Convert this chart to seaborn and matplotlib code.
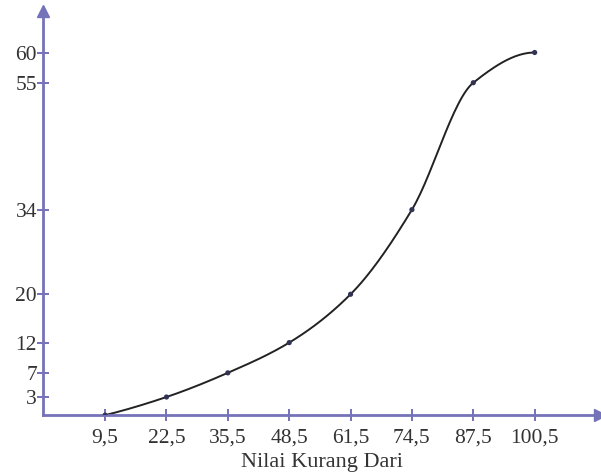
import numpy as np
import matplotlib
matplotlib.use("Agg")
import matplotlib.pyplot as plt
import seaborn as sns

# ogive "kurang dari"
batas_atas = [9.5, 22.5, 35.5, 48.5, 61.5, 74.5, 87.5, 100.5]
frek_kumulatif = [0, 3, 7, 12, 20, 34, 55, 60]
x_labels = ["9,5", "22,5", "35,5", "48,5", "61,5", "74,5", "87,5", "100,5"]
y_ticks = [3, 7, 12, 20, 34, 55, 60]

axis_col = "#7472b8"
text_col = "#333333"

sns.set_theme(style="white")
plt.rcParams["font.family"] = ["Liberation Serif", "DejaVu Serif"]


def pchip_slopes(xs, ys):
    h = np.diff(xs)
    d = np.diff(ys) / h
    m = np.zeros_like(ys)
    for k in range(1, len(xs) - 1):
        if d[k - 1] * d[k] > 0:
            w1 = 2 * h[k] + h[k - 1]
            w2 = h[k] + 2 * h[k - 1]
            m[k] = (w1 + w2) / (w1 / d[k - 1] + w2 / d[k])
    m[0] = ((2 * h[0] + h[1]) * d[0] - h[0] * d[1]) / (h[0] + h[1])
    m[-1] = ((2 * h[-1] + h[-2]) * d[-1] - h[-1] * d[-2]) / (h[-1] + h[-2])
    if m[0] * d[0] <= 0:
        m[0] = 0
    if m[-1] * d[-1] <= 0:
        m[-1] = 0
    return m


def smooth_curve(xs, ys, n=30):
    xs = np.asarray(xs, float)
    ys = np.asarray(ys, float)
    m = pchip_slopes(xs, ys)
    out_x, out_y = [], []
    for i in range(len(xs) - 1):
        h = xs[i + 1] - xs[i]
        t = np.linspace(0, 1, n)
        h00 = 2 * t**3 - 3 * t**2 + 1
        h10 = t**3 - 2 * t**2 + t
        h01 = -2 * t**3 + 3 * t**2
        h11 = t**3 - t**2
        out_x.extend(xs[i] + t * h)
        out_y.extend(h00 * ys[i] + h10 * h * m[i] + h01 * ys[i + 1] + h11 * h * m[i + 1])
    return np.array(out_x), np.array(out_y)


fig = plt.figure(figsize=(6.01, 4.75), dpi=100)
ax = fig.add_axes([0.072, 0.126, 0.926, 0.85])

cx, cy = smooth_curve(batas_atas, frek_kumulatif)
sns.lineplot(x=cx, y=cy, ax=ax, color="#222222", linewidth=1.4, sort=False)
sns.scatterplot(x=batas_atas, y=frek_kumulatif, ax=ax, color="#333355",
                s=14, edgecolor="none", zorder=5)

ax.set_xlim(-3.6, 114.3)
ax.set_ylim(0, 66.8)

ax.set_xticks(batas_atas)
ax.set_xticklabels(x_labels)
ax.set_yticks(y_ticks)

for side in ["top", "right"]:
    ax.spines[side].set_visible(False)
for side in ["left", "bottom"]:
    ax.spines[side].set_color(axis_col)
    ax.spines[side].set_linewidth(2)

ax.tick_params(axis="both", direction="inout", length=9, width=1.4,
               color=axis_col, labelcolor=text_col, labelsize=15.5,
               bottom=True, left=True)
ax.tick_params(axis="y", pad=0)
ax.tick_params(axis="x", pad=5)

# arrow heads
ax.plot(1, 0, ">", transform=ax.transAxes, color=axis_col, markersize=8, clip_on=False)
ax.plot(0, 1, "^", transform=ax.transAxes, color=axis_col, markersize=8, clip_on=False)

ax.set_xlabel("Nilai Kurang Dari", fontsize=16, color=text_col, labelpad=4)
ax.set_ylabel("")

plt.savefig("out.png", dpi=100)
plt.close()
